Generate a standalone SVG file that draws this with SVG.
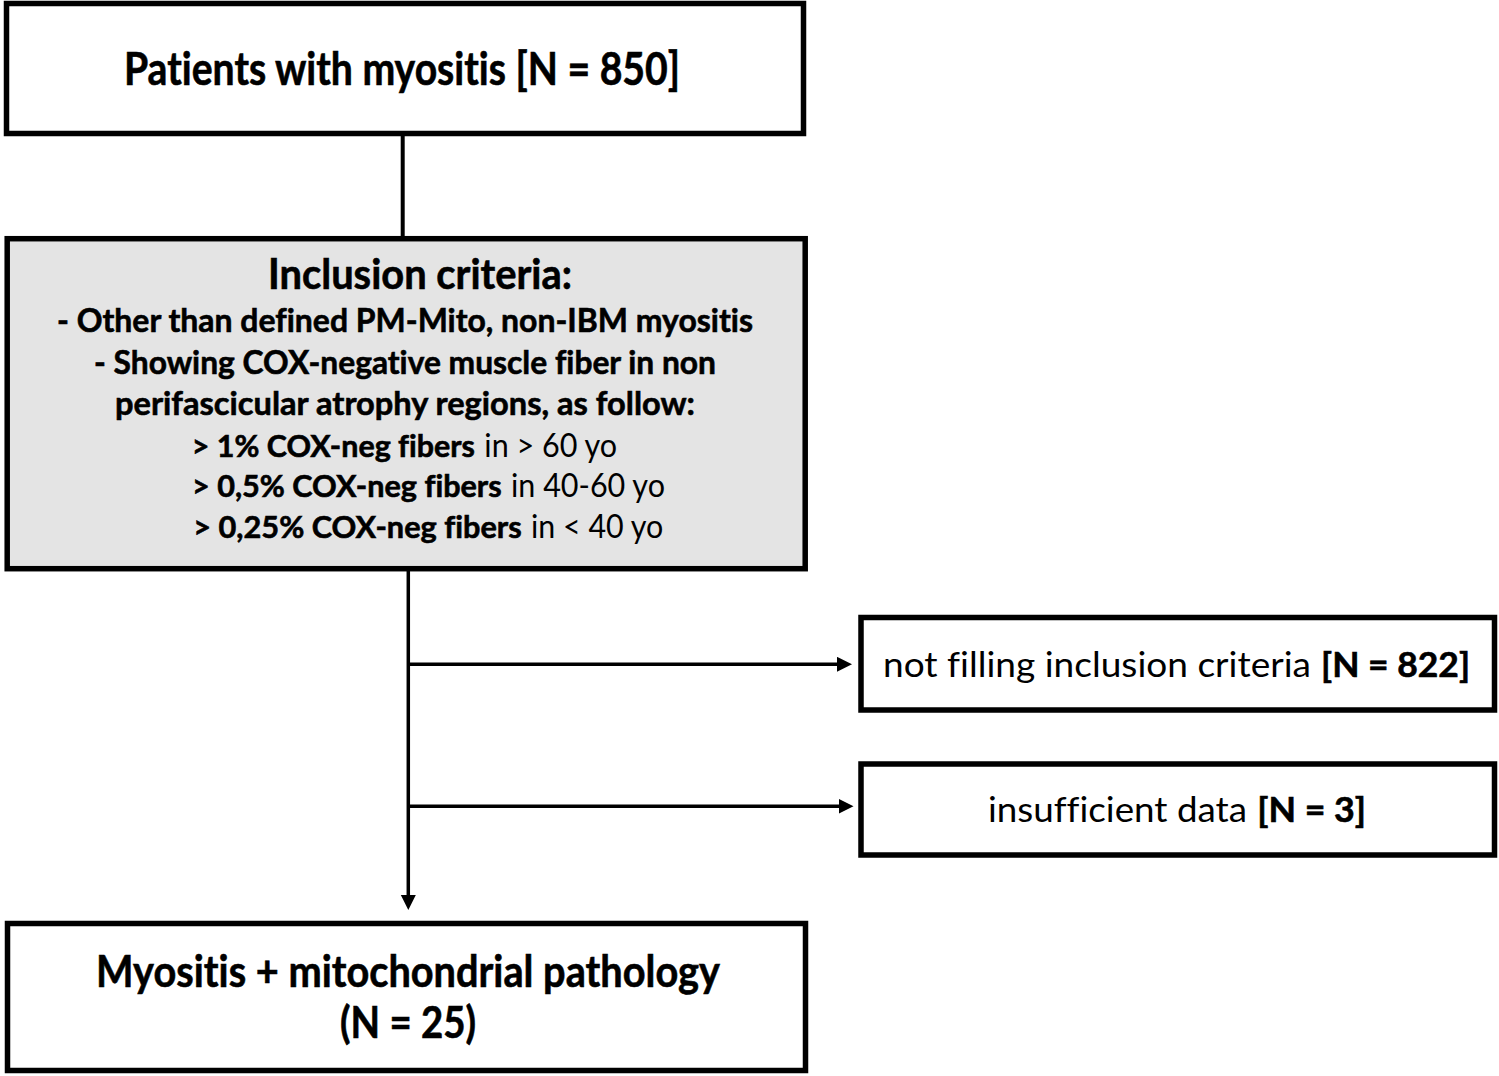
<svg xmlns="http://www.w3.org/2000/svg" width="1499" height="1076" viewBox="0 0 1499 1076">
<style>
  .box { fill: #ffffff; stroke: #000000; stroke-width: 5.5; }
  .grey { fill: #e4e4e4; }
  .t { font-family: Lato, "Open Sans", "Liberation Sans", sans-serif; fill: #000000; font-variant-ligatures: none; }
  .b { font-weight: bold; stroke: #000000; stroke-width: 0.6; }
  .r { font-weight: normal; stroke: none; }
  .conn { stroke: #000000; stroke-width: 3.5; fill: none; }
</style>
<defs>
  <marker id="arr" markerUnits="userSpaceOnUse" markerWidth="16" markerHeight="16" refX="5" refY="7.5" orient="auto">
    <path d="M0,0 L15,7.5 L0,15 Z" fill="#000000"/>
  </marker>
</defs>
<rect x="0" y="0" width="1499" height="1076" fill="#ffffff"/>

<g id="connectors">
  <line class="conn" x1="402.7" y1="136" x2="402.7" y2="236" style="stroke-width:4"/>
  <line class="conn" x1="408.3" y1="571" x2="408.3" y2="900" marker-end="url(#arr)"/>
  <line class="conn" x1="408.3" y1="664.3" x2="842" y2="664.3" marker-end="url(#arr)"/>
  <line class="conn" x1="408.3" y1="806.3" x2="843.5" y2="806.3" marker-end="url(#arr)"/>
</g>

<g id="node-patients">
  <rect class="box" x="6.5" y="3.5" width="797" height="130"/>
  <text class="t b" x="124" y="85" font-size="45" textLength="556" lengthAdjust="spacingAndGlyphs">Patients with myositis [N = 850]</text>
</g>

<g id="node-inclusion">
  <rect class="box grey" x="7.2" y="238.7" width="798" height="330"/>
  <text class="t b" x="268" y="289" font-size="42" textLength="304" lengthAdjust="spacingAndGlyphs">Inclusion criteria:</text>
  <text class="t b" x="57" y="332" font-size="33" textLength="696" lengthAdjust="spacingAndGlyphs">- Other than defined PM-Mito, non-IBM myositis</text>
  <text class="t b" x="94" y="373.5" font-size="33" textLength="622" lengthAdjust="spacingAndGlyphs">- Showing COX-negative muscle fiber in non</text>
  <text class="t b" x="115" y="415" font-size="33" textLength="580" lengthAdjust="spacingAndGlyphs">perifascicular atrophy regions, as follow:</text>
  <text class="t" y="456.7" font-size="33"><tspan class="b" font-size="31" x="191.7" textLength="283.3" lengthAdjust="spacingAndGlyphs">&gt; 1% COX-neg fibers</tspan><tspan class="r" x="476.5" textLength="140.5" lengthAdjust="spacingAndGlyphs"> in &gt; 60 yo</tspan></text>
  <text class="t" y="497.3" font-size="33"><tspan class="b" font-size="31" x="192" textLength="309.7" lengthAdjust="spacingAndGlyphs">&gt; 0,5% COX-neg fibers</tspan><tspan class="r" x="503.2" textLength="161.8" lengthAdjust="spacingAndGlyphs"> in 40-60 yo</tspan></text>
  <text class="t" y="538.3" font-size="33"><tspan class="b" font-size="31" x="193.3" textLength="328.4" lengthAdjust="spacingAndGlyphs">&gt; 0,25% COX-neg fibers</tspan><tspan class="r" x="523.2" textLength="140.1" lengthAdjust="spacingAndGlyphs"> in &lt; 40 yo</tspan></text>
</g>

<g id="node-notfilling">
  <rect class="box" x="861" y="617.5" width="633.5" height="92.5"/>
  <text class="t" y="677" font-size="34"><tspan class="r" x="883" textLength="428" lengthAdjust="spacingAndGlyphs">not filling inclusion criteria</tspan><tspan class="b" x="1312.5" textLength="157.5" lengthAdjust="spacingAndGlyphs"> [N = 822]</tspan></text>
</g>

<g id="node-insufficient">
  <rect class="box" x="861" y="764" width="633.5" height="91"/>
  <text class="t" y="822" font-size="34"><tspan class="r" x="988" textLength="259" lengthAdjust="spacingAndGlyphs">insufficient data</tspan><tspan class="b" x="1248.5" textLength="117.5" lengthAdjust="spacingAndGlyphs"> [N = 3]</tspan></text>
</g>

<g id="node-result">
  <rect class="box" x="7.5" y="923.5" width="798" height="147"/>
  <text class="t b" x="96" y="987" font-size="44" textLength="624" lengthAdjust="spacingAndGlyphs">Myositis + mitochondrial pathology</text>
  <text class="t b" x="340" y="1038" font-size="44" textLength="136" lengthAdjust="spacingAndGlyphs">(N = 25)</text>
</g>
</svg>
